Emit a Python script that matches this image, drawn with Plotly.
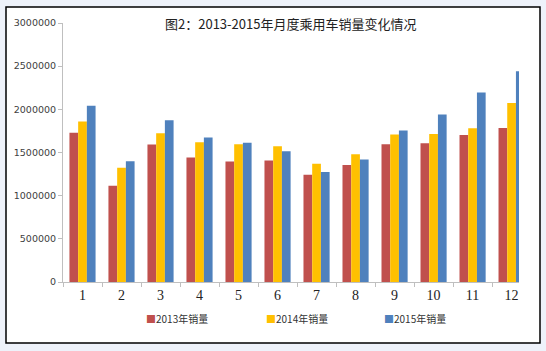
import plotly.graph_objects as go

months = ["1", "2", "3", "4", "5", "6", "7", "8", "9", "10", "11", "12"]
series_names = ["2013年销量", "2014年销量", "2015年销量"]
sales_2013 = [1730000, 1116000, 1592000, 1442000, 1396000, 1408000, 1242000, 1354000, 1596000, 1608000, 1704000, 1785000]
sales_2014 = [1858000, 1323000, 1723000, 1619000, 1596000, 1573000, 1369000, 1481000, 1708000, 1715000, 1780000, 2073000]
sales_2015 = [2042000, 1400000, 1873000, 1673000, 1612000, 1515000, 1273000, 1419000, 1754000, 1940000, 2196000, 2440000]
colors = ["#c0504d", "#ffc000", "#4f81bd"]
y_ticks = [0, 500000, 1000000, 1500000, 2000000, 2500000, 3000000]
title_text = "图2：2013-2015年月度乘用车销量变化情况"

fig = go.Figure()
for name, vals, col in zip(series_names, [sales_2013, sales_2014, sales_2015], colors):
    fig.add_trace(go.Bar(x=months, y=vals, name=name, marker=dict(color=col, line=dict(width=0)),
                         showlegend=False))

L, R, T, B = 63, 27, 23, 69
W, H = 546, 351
pw, ph = W - L - R, H - T - B

def px_x(p):
    return (p - L) / pw

def px_y(p):
    return (H - B - p) / ph

fig.add_shape(type="rect", xref="paper", yref="paper",
              x0=px_x(6), x1=px_x(540), y0=px_y(343), y1=px_y(7),
              fillcolor="white", line=dict(color="black", width=1.5), layer="below")

fig.add_annotation(text=title_text, xref="paper", yref="paper", x=px_x(290), y=px_y(24),
                   xanchor="center", yanchor="middle", showarrow=False,
                   font=dict(family="Noto Sans CJK SC", size=13, color="#222222"))

leg_x = [145, 265, 383]
for name, col, lx in zip(series_names, colors, leg_x):
    fig.add_annotation(text=f'<span style="color:{col}">■</span>{name}', xref="paper", yref="paper",
                       x=px_x(lx - 1), y=px_y(318), xanchor="left", yanchor="middle", showarrow=False,
                       font=dict(family="Noto Sans CJK SC", size=10, color="#333333"))

fig.update_layout(
    width=W, height=H,
    margin=dict(l=L, r=R, t=T, b=B, pad=0),
    paper_bgcolor="#eef2fa",
    plot_bgcolor="rgba(0,0,0,0)",
    barmode="group", bargap=0.33, bargroupgap=0,
    xaxis=dict(type="category", range=[-0.5, 11.19], showline=True, linecolor="#bfbfbf", linewidth=1,
               ticks="outside", tickson="boundaries", ticklen=4, tickcolor="#bfbfbf",
               showgrid=False, tickfont=dict(family="Liberation Serif", size=14, color="#222222")),
    yaxis=dict(range=[0, 3000000], tickvals=y_ticks, tickformat="d", showline=True, linecolor="#bfbfbf",
               linewidth=1, ticks="outside", ticklen=4, tickcolor="#bfbfbf", showgrid=False, zeroline=False,
               tickfont=dict(family="DejaVu Sans", size=9.5, color="#404040")),
)

fig.write_html("out.html")
